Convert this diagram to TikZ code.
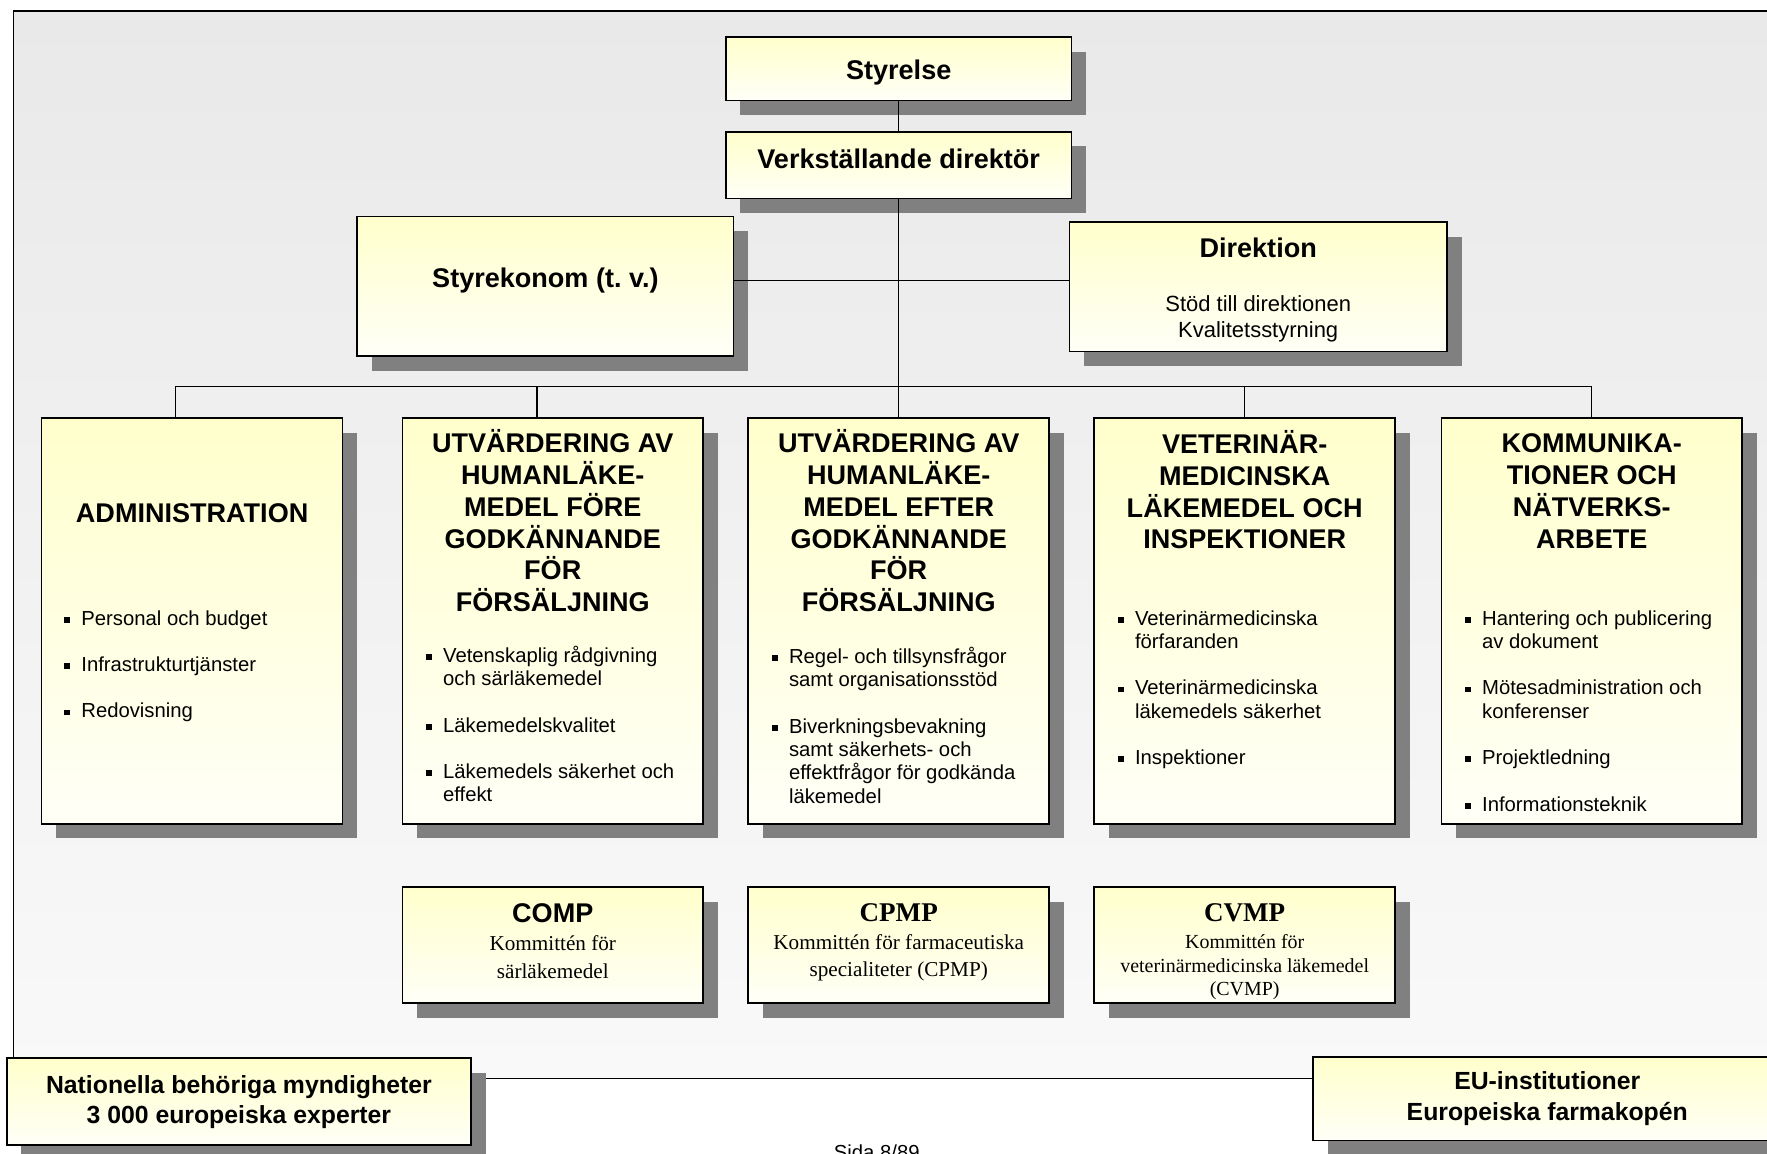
\documentclass[tikz,border=0pt]{standalone}
\usepackage{fontspec}
\setmainfont{Liberation Sans}
\newfontfamily\timesrm{Liberation Serif}
\usepackage{xcolor}
\usetikzlibrary{positioning, shadows}
\definecolor{boxtop}{RGB}{255,255,204}
\definecolor{boxbot}{RGB}{255,255,247}
\definecolor{bgtop}{RGB}{233,233,233}
\definecolor{bgbot}{RGB}{249,249,249}
\definecolor{shgray}{RGB}{128,128,128}
\newcommand{\sq}{\rule[2.2pt]{5pt}{5pt}}

\begin{document}
\begin{tikzpicture}[
    x=1pt, y=-1pt,
    box/.style={rectangle, draw, line width=1.4pt, outer sep=0pt, top color=boxtop, bottom color=boxbot, inner sep=0pt, align=center,
        drop shadow={shadow xshift=13pt, shadow yshift=-13pt, fill=shgray, opacity=1}},
    topbox/.style={box, minimum width=307pt, font=\fontsize{24}{28}\selectfont\bfseries},
    dept/.style={box, minimum width=267pt, minimum height=360pt},
    comm/.style={box, minimum width=267pt, minimum height=103pt},
    head/.style={align=center, inner sep=0pt, font=\fontsize{24}{28.3}\selectfont\bfseries},
    bul/.style={inner sep=0pt, anchor=north west, font=\fontsize{18}{20.7}\selectfont},
    link/.style={line width=1.2pt}
]
\fill[white] (0,0) rectangle (1568,1024);
\useasboundingbox (0,0) rectangle (1568,1024);
\draw[line width=1.4pt, top color=bgtop, bottom color=bgbot] (12,10) rectangle (1600,957);

% ledning
\node[topbox, minimum height=56pt, text height=19pt, text depth=0pt] (styrelse) at (797.5,61) {Styrelse};
\node[topbox, minimum height=59pt, text depth=11pt, below=28pt of styrelse] (vd) {Verkställande direktör};
\node[box, minimum width=334pt, minimum height=124pt, text depth=16pt, font=\fontsize{24}{28}\selectfont\bfseries] (styrek) at (484,254) {Styrekonom (t.\ v.)};
\node[box, minimum width=335pt, minimum height=115pt, font=\fontsize{19.5}{23}\selectfont] (dir) at (1116.5,254.5)
    {{\fontsize{24}{28}\selectfont\bfseries\rule{0pt}{22.5pt}Direktion}\\[25pt]Stöd till direktionen\\Kvalitetsstyrning};

% enheter
\node[dept] (admin) at (170.5,551) {};
\node[dept, right=53pt of admin] (prehum) {};
\node[dept, right=40pt of prehum] (posthum) {};
\node[dept, right=40pt of posthum] (vet) {};
\node[dept, right=41pt of vet] (komm) {};

\node[head] (adminh) at ([yshift=-84pt]admin.north) {ADMINISTRATION};
\node[head] (prehumh) at ([yshift=-91pt]prehum.north) {UTVÄRDERING AV\\HUMANLÄKE-\\MEDEL FÖRE\\GODKÄNNANDE\\FÖR\\FÖRSÄLJNING};
\node[head] (posthumh) at ([yshift=-91pt]posthum.north) {UTVÄRDERING AV\\HUMANLÄKE-\\MEDEL EFTER\\GODKÄNNANDE\\FÖR\\FÖRSÄLJNING};
\node[head] (veth) at ([yshift=-63.5pt]vet.north) {VETERINÄR-\\MEDICINSKA\\LÄKEMEDEL OCH\\INSPEKTIONER};
\node[head] (kommh) at ([yshift=-64.5pt]komm.north) {KOMMUNIKA-\\TIONER OCH\\NÄTVERKS-\\ARBETE};

\node[bul] (adminb) at ([xshift=20pt, yshift=-169pt]admin.north west) {\begin{tabular}{@{}l@{\hspace{10pt}}l@{}}
\sq & Personal och budget\\[20.5pt]
\sq & Infrastrukturtjänster\\[20.5pt]
\sq & Redovisning
\end{tabular}};
\node[bul] (prehumb) at ([xshift=21pt, yshift=-202pt]prehum.north west) {\begin{tabular}{@{}l@{\hspace{10pt}}l@{}}
\sq & Vetenskaplig rådgivning\\ & och särläkemedel\\[20.5pt]
\sq & Läkemedelskvalitet\\[20.5pt]
\sq & Läkemedels säkerhet och\\ & effekt
\end{tabular}};
\node[bul] (posthumb) at ([xshift=21pt, yshift=-203pt]posthum.north west) {\begin{tabular}{@{}l@{\hspace{10pt}}l@{}}
\sq & Regel- och tillsynsfrågor\\ & samt organisationsstöd\\[20.5pt]
\sq & Biverkningsbevakning\\ & samt säkerhets- och\\ & effektfrågor för godkända\\ & läkemedel
\end{tabular}};
\node[bul] (vetb) at ([xshift=21pt, yshift=-169pt]vet.north west) {\begin{tabular}{@{}l@{\hspace{10pt}}l@{}}
\sq & Veterinärmedicinska\\ & förfaranden\\[20.5pt]
\sq & Veterinärmedicinska\\ & läkemedels säkerhet\\[20.5pt]
\sq & Inspektioner
\end{tabular}};
\node[bul] (kommb) at ([xshift=21pt, yshift=-169pt]komm.north west) {\begin{tabular}{@{}l@{\hspace{10pt}}l@{}}
\sq & Hantering och publicering\\ & av dokument\\[20.5pt]
\sq & Mötesadministration och\\ & konferenser\\[20.5pt]
\sq & Projektledning\\[20.5pt]
\sq & Informationsteknik
\end{tabular}};

% kommittéer
\node[comm, below=56pt of prehum] (comp) {};
\node[comm, below=56pt of posthum] (cpmp) {};
\node[comm, below=56pt of vet] (cvmp) {};
\node[align=center, inner sep=0pt, font=\timesrm\fontsize{18.8}{25}\selectfont] (compt) at ([yshift=3.5pt]comp.center)
    {{\rmfamily\bfseries\fontsize{24}{28}\selectfont COMP}\\Kommittén för\\särläkemedel};
\node[align=center, inner sep=0pt, font=\timesrm\fontsize{18.8}{23.5}\selectfont] (cpmpt) at ([yshift=2.5pt]cpmp.center)
    {{\bfseries\fontsize{24}{28}\selectfont CPMP}\\[1.5pt]Kommittén för farmaceutiska\\specialiteter (CPMP)};
\node[align=center, inner sep=0pt, font=\timesrm\fontsize{17.7}{21}\selectfont] (cvmpt) at ([yshift=-6pt]cvmp.center)
    {{\bfseries\fontsize{24}{28}\selectfont CVMP}\\[3pt]Kommittén för\\veterinärmedicinska läkemedel\\(CVMP)};

% externa
\node[box, minimum width=412pt, minimum height=77pt, text depth=4pt, font=\fontsize{22}{27}\selectfont\bfseries] (nat) at (212,977.5)
    {Nationella behöriga myndigheter\\3 000 europeiska experter};
\node[box, minimum width=416pt, minimum height=74pt, font=\fontsize{22}{27}\selectfont\bfseries] (eu) at (1373,975)
    {EU-institutioner\\Europeiska farmakopén};
\node[anchor=north, inner sep=0pt, font=\fontsize{18}{20}\selectfont] (sida) at (778,1016) {Sida 8/89};

% linjer
\coordinate (bus) at (797.5,343);
\draw[link] (styrelse.south) -- (vd.north);
\draw[link] (vd.south) -- (bus);
\draw[link] ([yshift=5pt]styrek.east) -- ([yshift=5.5pt]dir.west);
\draw[link] ([xshift=-14.5pt]admin.north) |- (bus);
\draw[link] ([xshift=-14pt]prehum.north) |- (bus);
\draw[link] (posthum.north) |- (bus);
\draw[link] (vet.north) |- (bus);
\draw[link] (komm.north) |- (bus);
\end{tikzpicture}
\end{document}
